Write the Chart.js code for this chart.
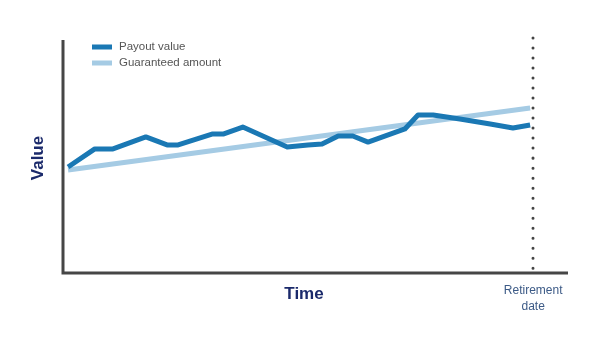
<!DOCTYPE html>
<html>
<head>
<meta charset="utf-8">
<script src="https://cdn.jsdelivr.net/npm/chart.js@4"></script>
<style>
  html, body { margin: 0; padding: 0; background: #fff; }
  #wrap { width: 602px; height: 342px; position: relative; }
</style>
</head>
<body>
<div id="wrap"><canvas id="chart"></canvas></div>
<script>
// time runs 0..100, value runs 0..100
const payoutTime  = [1.0, 6.3, 9.9, 16.4, 20.6, 22.8, 29.5, 31.7, 35.6, 44.4, 48.5, 51.3, 54.5, 57.4, 60.4, 67.7, 70.3, 73.3, 78.6, 84.6, 89.1, 92.5];
const payoutValue = [45.1, 52.8, 52.8, 57.9, 54.5, 54.5, 59.1, 59.1, 62.1, 53.6, 54.5, 54.9, 58.3, 58.3, 55.7, 61.3, 67.2, 67.2, 65.5, 63.4, 61.7, 63.0];
const guaranteedTime  = [1.0, 92.5];
const guaranteedValue = [43.8, 70.2];
const retirementTime = 93.1;

const seriesLabels = ['Payout value', 'Guaranteed amount'];
const seriesColors = ['#1a78b4', '#a5cbe4'];

function toPoints(xs, ys) {
    return xs.map((x, i) => ({ x: x, y: ys[i] }));
}

// axes, retirement marker, titles and legend
const decorations = {
    id: 'decorations',
    beforeDatasetsDraw(chart) {
        const ctx = chart.ctx;
        const area = chart.chartArea;
        const xScale = chart.scales.x;

        ctx.save();
        // dotted retirement line
        const rx = Math.round(xScale.getPixelForValue(retirementTime));
        ctx.strokeStyle = '#444';
        ctx.lineWidth = 3;
        ctx.lineCap = 'round';
        ctx.setLineDash([0.01, 10]);
        ctx.beginPath();
        ctx.moveTo(rx, area.top);
        ctx.lineTo(rx, area.bottom - 4);
        ctx.stroke();
        ctx.restore();
    },
    afterDraw(chart) {
        const ctx = chart.ctx;
        const area = chart.chartArea;
        const xScale = chart.scales.x;

        ctx.save();
        // axis lines
        ctx.strokeStyle = '#464646';
        ctx.lineWidth = 3;
        ctx.beginPath();
        ctx.moveTo(area.left, area.top + 2);
        ctx.lineTo(area.left, area.bottom);
        ctx.lineTo(area.right, area.bottom);
        ctx.stroke();

        // axis titles
        ctx.fillStyle = '#1b2a6b';
        ctx.font = 'bold 17px "Liberation Sans", Arial, sans-serif';
        ctx.textAlign = 'center';
        ctx.textBaseline = 'middle';
        ctx.fillText('Time', 304, 294);
        ctx.save();
        ctx.translate(38, 158);
        ctx.rotate(-Math.PI / 2);
        ctx.fillText('Value', 0, 0);
        ctx.restore();

        // retirement label
        const rx = xScale.getPixelForValue(retirementTime);
        ctx.fillStyle = '#3c5a86';
        ctx.font = '12px "Liberation Sans", Arial, sans-serif';
        ctx.fillText('Retirement', rx, 291);
        ctx.fillText('date', rx, 307);

        // legend
        ctx.textAlign = 'left';
        ctx.font = '11.5px "Liberation Sans", Arial, sans-serif';
        const rows = [47, 63];
        seriesLabels.forEach((label, i) => {
            ctx.fillStyle = seriesColors[i];
            ctx.fillRect(92, rows[i] - 2.5, 20, 5);
            ctx.fillStyle = '#555';
            ctx.fillText(label, 119, rows[i]);
        });
        ctx.restore();
    }
};

new Chart(document.getElementById('chart'), {
    type: 'line',
    data: {
        datasets: [
            {
                label: seriesLabels[0],
                data: toPoints(payoutTime, payoutValue),
                borderColor: seriesColors[0],
                borderWidth: 5,
                borderJoinStyle: 'round',
                pointRadius: 0,
                tension: 0,
                order: 0
            },
            {
                label: seriesLabels[1],
                data: toPoints(guaranteedTime, guaranteedValue),
                borderColor: seriesColors[1],
                borderWidth: 5,
                pointRadius: 0,
                tension: 0,
                order: 1
            }
        ]
    },
    options: {
        responsive: true,
        maintainAspectRatio: false,
        animation: false,
        devicePixelRatio: 1,
        layout: { padding: { left: 63, right: 34, top: 38, bottom: 69 } },
        plugins: {
            legend: { display: false },
            tooltip: { enabled: false }
        },
        scales: {
            x: { type: 'linear', min: 0, max: 100, display: false },
            y: { type: 'linear', min: 0, max: 100, display: false }
        }
    },
    plugins: [decorations]
});
</script>
</body>
</html>
